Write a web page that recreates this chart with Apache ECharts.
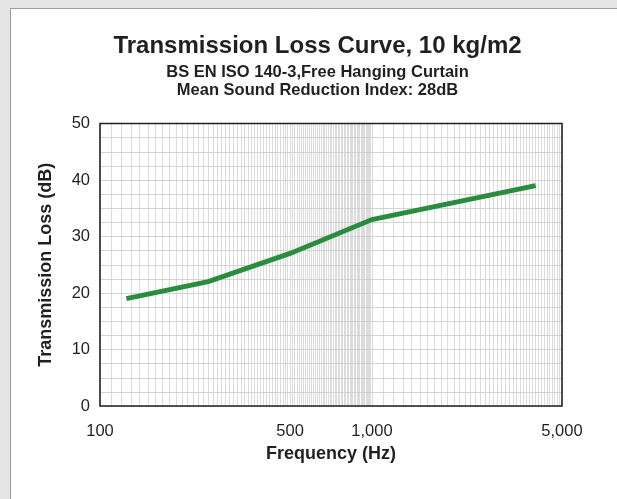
<!DOCTYPE html>
<html>
<head>
<meta charset="utf-8">
<script src="https://cdn.jsdelivr.net/npm/echarts@6.0.0/dist/echarts.min.js"></script>
<style>
html,body{margin:0;padding:0;background:#e4e4e4;}
#chart{width:617px;height:499px;}
</style>
</head>
<body>
<div id="chart"></div>
<script>
// ---- data ----
const frequencies = [125, 250, 500, 1000, 2000, 4000];      // Hz
const transmissionLoss = [19, 22, 27, 33, 36, 39];           // dB
const xTickLabels = [100, 500, 1000, 5000];
const yTickLabels = [0, 10, 20, 30, 40, 50];

// vertical grid positions (log-paper style): every 10 Hz to 1000, every 100 Hz to 5000
const gridFreqs = [];
for (let f = 110; f <= 1000; f += 10) gridFreqs.push(f);
for (let f = 1100; f < 5000; f += 100) gridFreqs.push(f);

const FONT = '"Liberation Sans", Arial, sans-serif';
const TXT = '#231f20';
const G = {left: 100, right: 55, top: 123.5, bottom: 93};

const chart = echarts.init(document.getElementById('chart'), null, {renderer: 'canvas'});
chart.setOption({
  backgroundColor: '#e4e4e4',
  animation: false,
  graphic: [{
    type: 'rect', z: -10, silent: true,
    shape: {x: 10.5, y: 8.5, width: 640, height: 520},
    style: {fill: '#ffffff', stroke: '#9d9d9d', lineWidth: 1}
  }, {
    type: 'rect', z: 100, silent: true,
    shape: {x: G.left, y: G.top, width: 617 - G.left - G.right, height: 499 - G.top - G.bottom},
    style: {fill: null, stroke: '#231f20', lineWidth: 1.6}
  }],
  title: [
    {text: 'Transmission Loss Curve, 10 kg/m2', left: 317.5, top: 34, textAlign: 'center', padding: 0,
     textStyle: {fontSize: 24, fontWeight: 'bold', color: TXT, fontFamily: FONT}},
    {text: 'BS EN ISO 140-3,Free Hanging Curtain', left: 317.5, top: 64, textAlign: 'center', padding: 0,
     textStyle: {fontSize: 16.5, fontWeight: 'bold', color: TXT, fontFamily: FONT}},
    {text: 'Mean Sound Reduction Index: 28dB', left: 317.5, top: 82, textAlign: 'center', padding: 0,
     textStyle: {fontSize: 16.5, fontWeight: 'bold', color: TXT, fontFamily: FONT}}
  ],
  grid: {left: G.left, right: G.right, top: G.top, bottom: G.bottom, show: false},
  xAxis: {
    type: 'log', logBase: 10, min: 100, max: 5000,
    name: 'Frequency (Hz)', nameLocation: 'middle', nameGap: 36,
    nameTextStyle: {fontSize: 18, fontWeight: 'bold', color: TXT, fontFamily: FONT},
    axisLine: {show: false}, axisTick: {show: false}, splitLine: {show: false},
    axisLabel: {customValues: xTickLabels, margin: 17, fontSize: 16.5, color: TXT, fontFamily: FONT,
                formatter: v => Number(v).toLocaleString('en-US')}
  },
  yAxis: {
    type: 'value', min: 0, max: 50, interval: 10,
    name: 'Transmission Loss (dB)', nameLocation: 'middle', nameGap: 45,
    nameTextStyle: {fontSize: 18, fontWeight: 'bold', color: TXT, fontFamily: FONT},
    axisLine: {show: false}, axisTick: {show: false},
    axisLabel: {customValues: yTickLabels, margin: 10, fontSize: 16.5, color: TXT, fontFamily: FONT},
    splitLine: {show: true, lineStyle: {color: '#d4d4d4', width: 1}},
    minorTick: {show: false, splitNumber: 4},
    minorSplitLine: {show: true, lineStyle: {color: '#d4d4d4', width: 1}}
  },
  series: [
    {
      name: 'grid', type: 'line', data: [], silent: true, z: 1,
      markLine: {
        silent: true, symbol: ['none', 'none'], animation: false,
        label: {show: false},
        lineStyle: {color: '#cdcdcd', width: 0.7, type: 'solid'},
        emphasis: {disabled: true},
        data: gridFreqs.map(f => ({xAxis: f}))
      }
    },
    {
      name: 'Transmission Loss', type: 'line', z: 5,
      data: frequencies.map((f, i) => [f, transmissionLoss[i]]),
      showSymbol: false, symbol: 'none',
      lineStyle: {color: '#2a8c3e', width: 5, cap: 'butt', join: 'miter'}
    }
  ]
});
</script>
</body>
</html>
